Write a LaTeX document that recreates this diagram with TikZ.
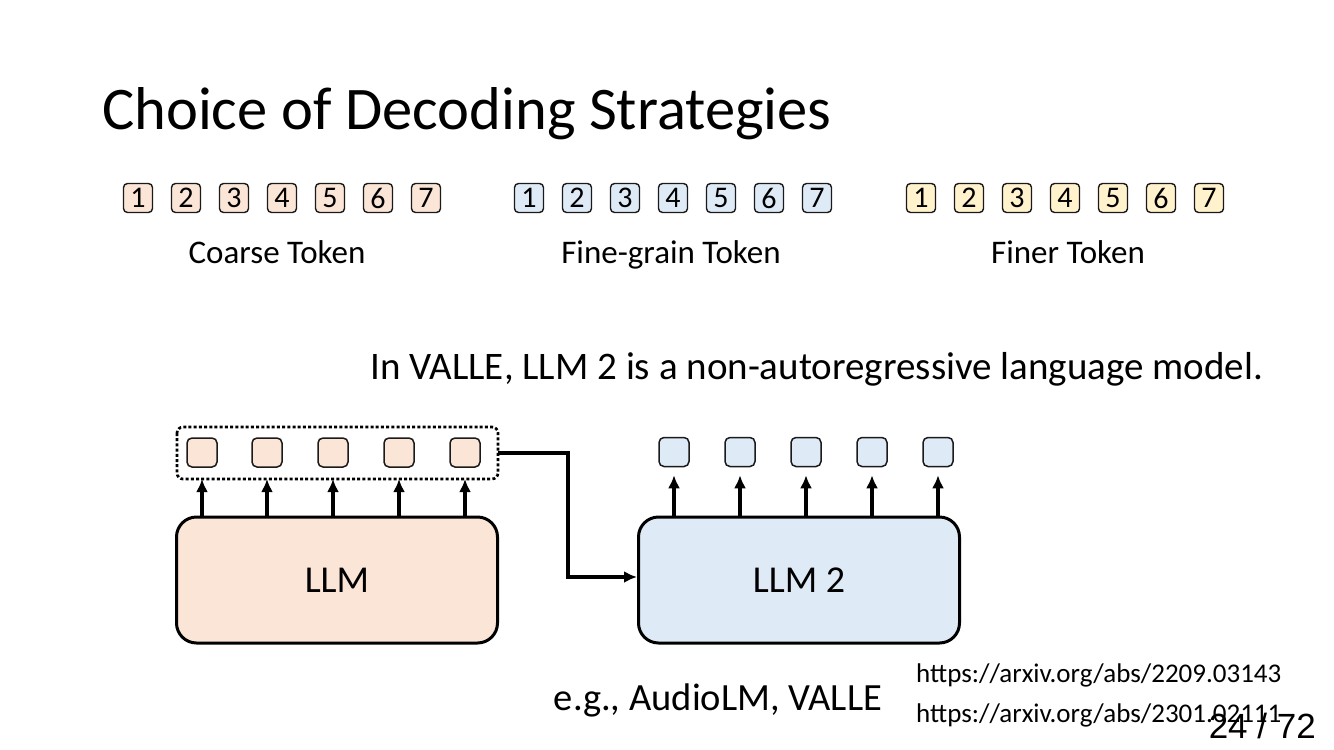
\documentclass[tikz,border=0pt]{standalone}
\usepackage{fontspec}
\setmainfont{Carlito}
\newfontfamily\arialfont{Liberation Sans}
\usetikzlibrary{arrows.meta,positioning}
\definecolor{corange}{HTML}{FBE5D6}
\definecolor{cblue}{HTML}{DEEBF7}
\definecolor{cyellow}{HTML}{FFF2CC}
\definecolor{cedge}{HTML}{1A1A1A}
\tikzset{
  tok/.style={draw=cedge, line width=1.4pt, rounded corners=4pt, minimum width=29pt, minimum height=29pt, inner sep=0pt, font=\fontsize{30}{32}\selectfont},
  smalltok/.style={draw=cedge, line width=1.5pt, rounded corners=5pt, minimum width=30pt, minimum height=29pt, inner sep=0pt},
  bigbox/.style={draw=black, line width=3pt, rounded corners=20pt, minimum width=321pt, minimum height=126pt, inner sep=0pt, font=\fontsize{38}{42}\selectfont},
  lbl/.style={font=\fontsize{33}{38}\selectfont, inner sep=0pt, anchor=base},
  arr/.style={line width=3.5pt, -{Latex[length=13pt,width=12pt]}},
}
\begin{document}
\begin{tikzpicture}[x=1pt,y=-1pt]
\useasboundingbox (0,0) rectangle (1334,750);
% title
\node[anchor=base west, inner sep=0pt, font=\fontsize{60.5}{66}\selectfont] (title) at (102,129) {Choice of Decoding Strategies};
% token rows
\foreach \i in {1,...,7} {
  \node[tok, fill=corange] (c\i) at ({138+48*(\i-1)},198) {\i};
  \node[tok, fill=cblue] (f\i) at ({529+48*(\i-1)},198) {\i};
  \node[tok, fill=cyellow] (r\i) at ({921+48*(\i-1)},198) {\i};
}
\node[lbl] (lc) at (277,263) {Coarse Token};
\node[lbl] (lf) at (671,263) {Fine-grain Token};
\node[lbl] (lr) at (1068,263) {Finer Token};
% statement
\node[anchor=base west, inner sep=0pt, font=\fontsize{39}{44}\selectfont] (stmt) at (370,379) {In VALLE, LLM 2 is a non-autoregressive language model.};
% LLM boxes
\node[bigbox, fill=corange] (llm) at (337,580) {LLM};
\node[bigbox, fill=cblue] (llm2) at (799,580) {LLM 2};
% output tokens
\foreach \x [count=\k] in {202,267,333,399,465} {
  \node[smalltok, fill=corange] (a\k) at (\x,452.5) {};
}
\foreach \x [count=\k] in {674,740,806,872,938} {
  \node[smalltok, fill=cblue] (b\k) at (\x,452) {};
}
\draw[line width=2.7pt, dash pattern=on 3pt off 2.2pt, rounded corners=6pt] (177,427) rectangle (498,479);
\coordinate (dotR) at (498,453);
\foreach \x [count=\k] in {202,267,333,399,465} {
  \coordinate (s\k) at (\x,517);
  \coordinate (e\k) at (\x,479);
  \draw[arr] (s\k) -- (e\k);
}
\foreach \x [count=\k] in {674,740,806,872,938} {
  \coordinate (t\k) at (\x,517);
  \draw[arr] (t\k) -- ([yshift=-8pt]b\k.south);
}
\coordinate (bend1) at (568,453);
\coordinate (bend2) at (568,577);
\draw[arr] (dotR) -- (bend1) -- (bend2) -- (llm2.west |- bend2);
% bottom texts
\node[anchor=base, inner sep=0pt, font=\fontsize{38.5}{44}\selectfont] (eg) at (718,710) {e.g., AudioLM, VALLE};
\node[anchor=base west, inner sep=0pt, font=\fontsize{27}{30}\selectfont] (u1) at (916,682) {https://arxiv.org/abs/2209.03143};
\node[anchor=base west, inner sep=0pt, font=\fontsize{27}{30}\selectfont] (u2) at (916,722) {https://arxiv.org/abs/2301.02111};
\node[anchor=base east, inner sep=0pt, font=\arialfont\fontsize{35}{40}\selectfont] (pg) at (1316,738) {24 / 72};
\end{tikzpicture}
\end{document}
